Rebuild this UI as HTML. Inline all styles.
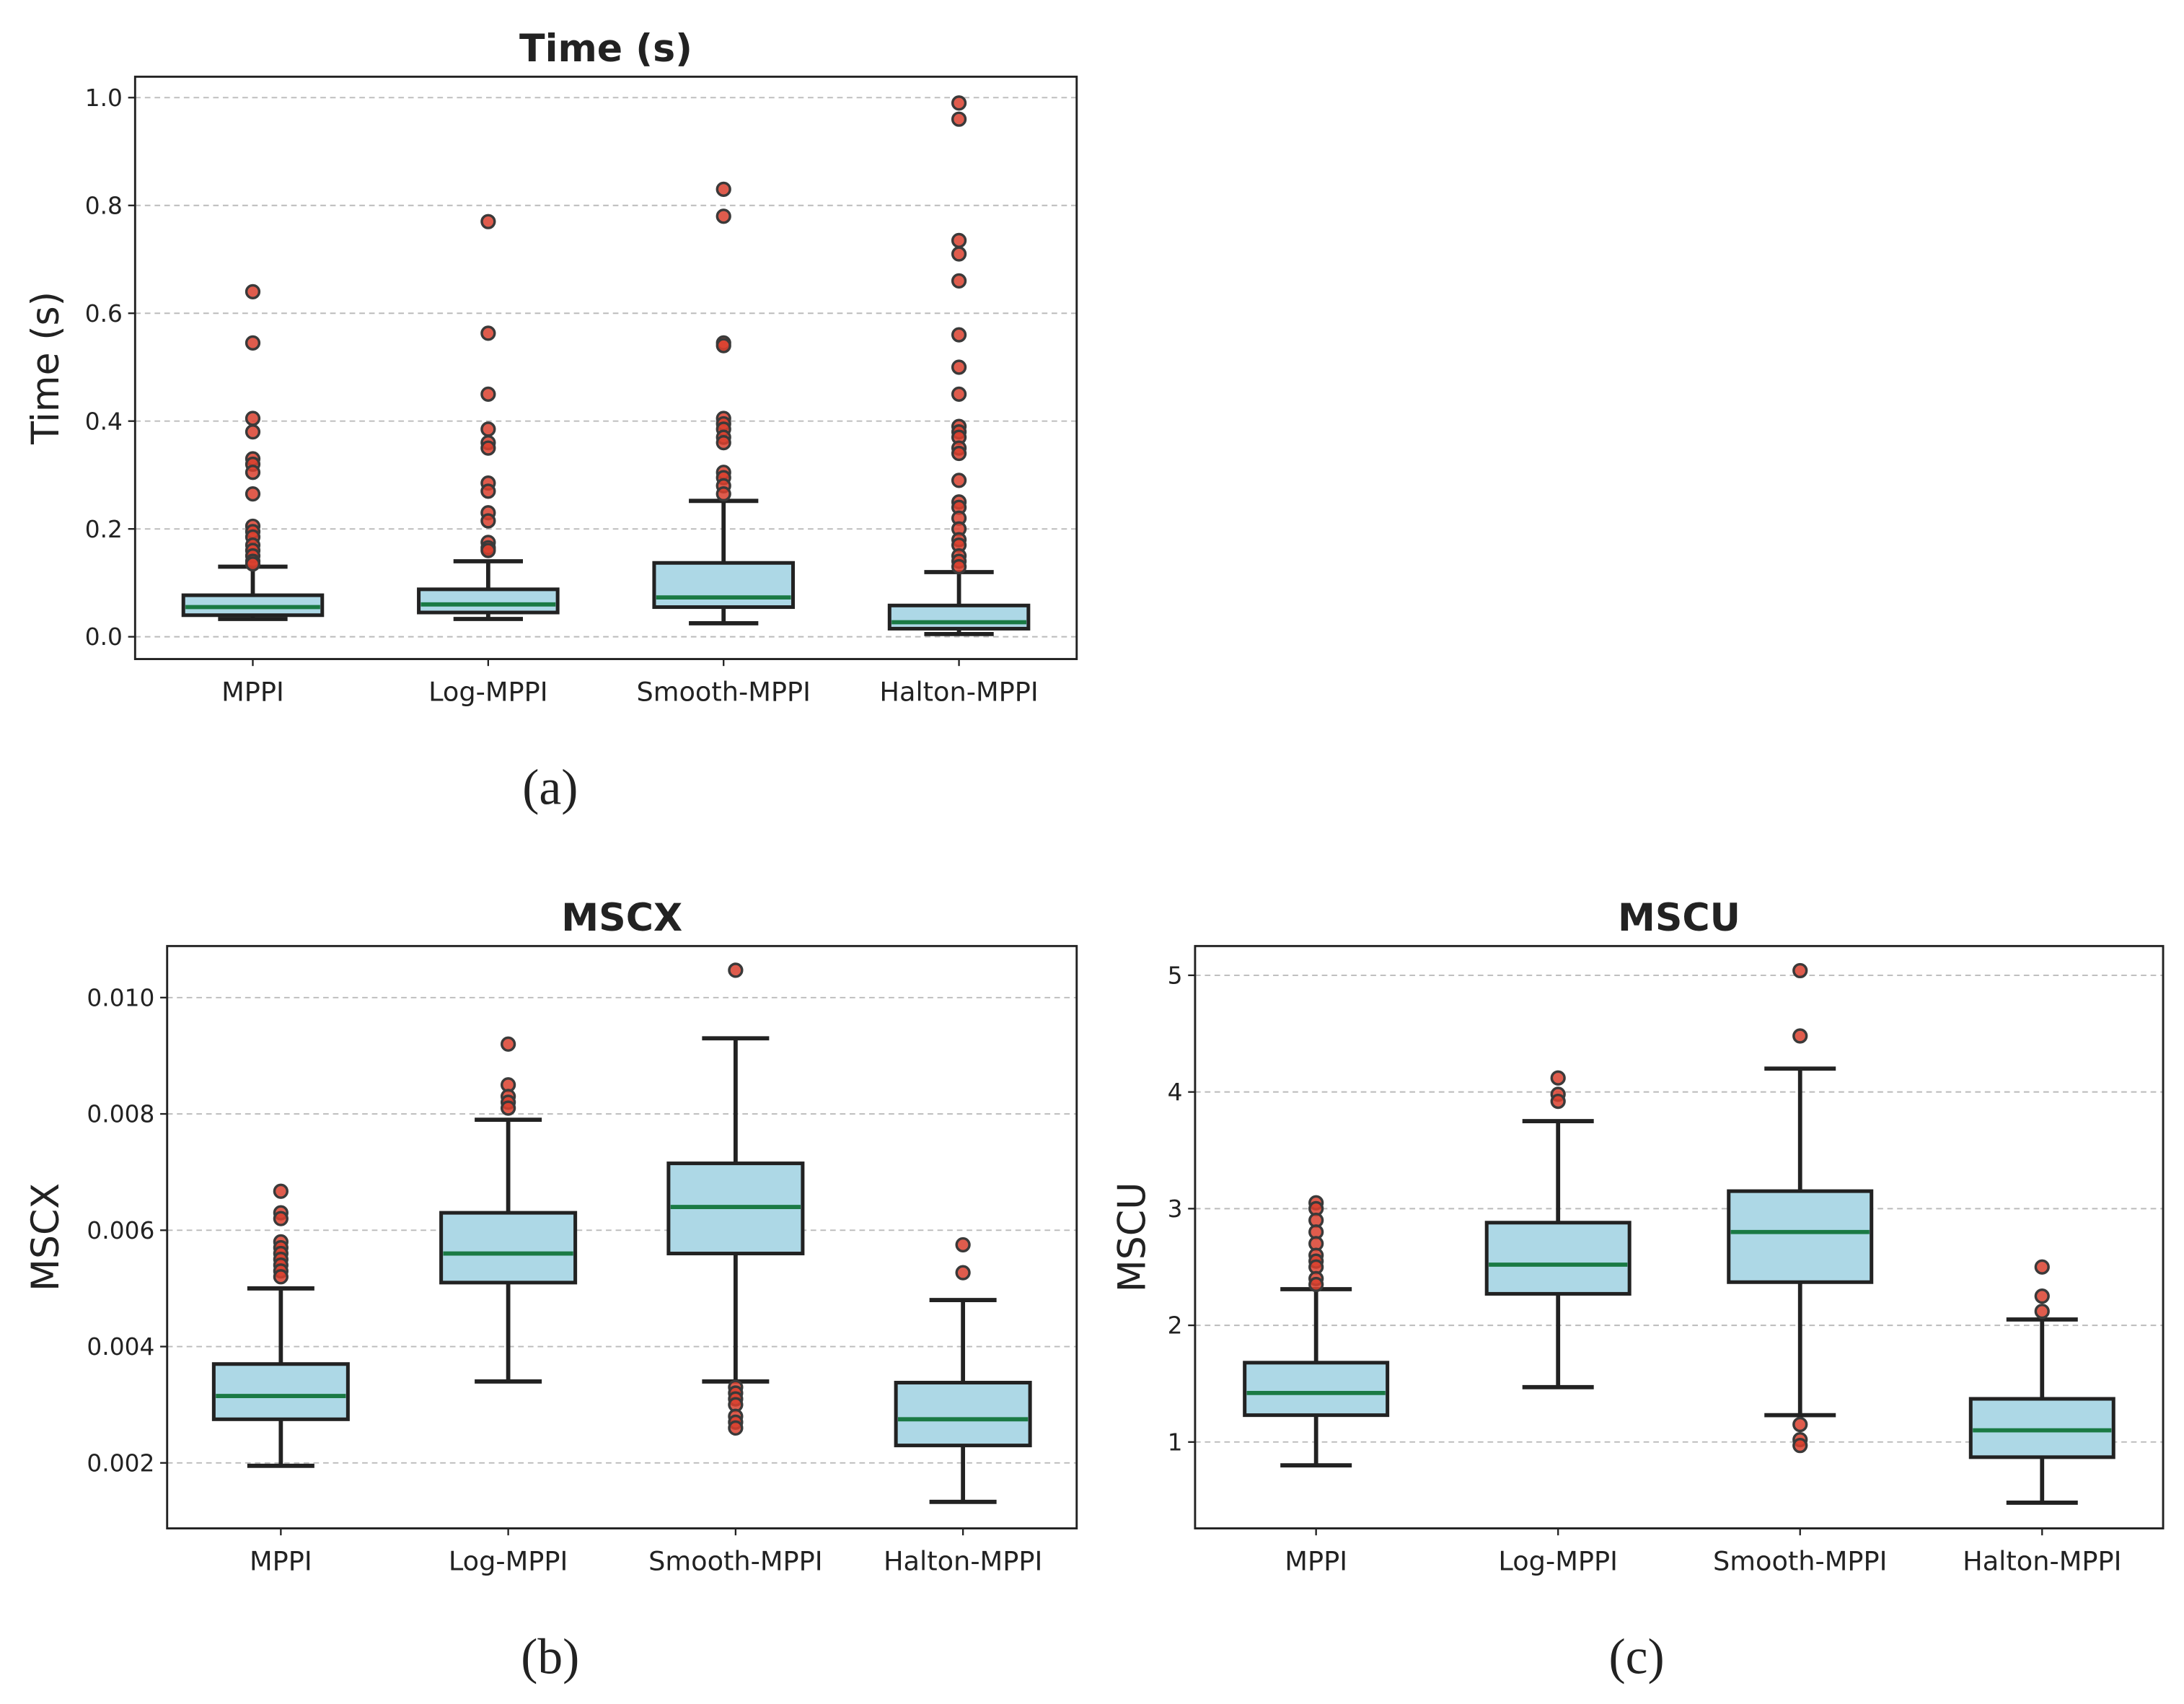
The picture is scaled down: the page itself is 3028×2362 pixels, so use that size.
<!DOCTYPE html>
<html><head><meta charset="utf-8"><style>
html,body{margin:0;padding:0;background:#fff}
svg{display:block}
text{font-family:"DejaVu Sans","Liberation Sans",sans-serif;fill:#222}
</style></head><body>
<svg id="chart" width="3028" height="2362" viewBox="0 0 1568 1223" xmlns="http://www.w3.org/2000/svg"></svg>
<script>
const categories=["MPPI","Log-MPPI","Smooth-MPPI","Halton-MPPI"];
// Time panel
const timeBoxes=[[0.040,0.055,0.077],[0.045,0.060,0.088],[0.055,0.073,0.137],[0.015,0.027,0.058]];
const timeWhiskers=[[0.033,0.13],[0.033,0.14],[0.025,0.252],[0.005,0.12]];
const timeOutliers=[
[0.64,0.545,0.405,0.38,0.33,0.32,0.305,0.265,0.205,0.195,0.185,0.17,0.16,0.15,0.14,0.135],
[0.77,0.563,0.45,0.385,0.36,0.35,0.285,0.27,0.23,0.215,0.175,0.165,0.16],
[0.83,0.78,0.545,0.54,0.405,0.395,0.385,0.37,0.36,0.305,0.295,0.28,0.265],
[0.99,0.96,0.735,0.71,0.66,0.56,0.5,0.45,0.39,0.38,0.37,0.35,0.34,0.29,0.25,0.24,0.22,0.2,0.18,0.17,0.15,0.14,0.13]];
const timeTicks=[0,0.2,0.4,0.6,0.8,1.0];
const timeTickLabels=["0.0","0.2","0.4","0.6","0.8","1.0"];
// MSCX panel
const mscxBoxes=[[0.00275,0.00315,0.0037],[0.0051,0.0056,0.0063],[0.0056,0.0064,0.00715],[0.0023,0.00275,0.00338]];
const mscxWhiskers=[[0.00195,0.005],[0.0034,0.0079],[0.0034,0.0093],[0.00133,0.0048]];
const mscxOutliers=[
[0.00667,0.0063,0.0062,0.0058,0.0057,0.0056,0.0055,0.0054,0.0053,0.0052],
[0.0092,0.0085,0.0083,0.0082,0.0081],
[0.01047,0.0033,0.0032,0.0031,0.0030,0.0028,0.0027,0.0026],
[0.00575,0.00527]];
const mscxTicks=[0.002,0.004,0.006,0.008,0.010];
const mscxTickLabels=["0.002","0.004","0.006","0.008","0.010"];
// MSCU panel
const mscuBoxes=[[1.23,1.42,1.68],[2.27,2.52,2.88],[2.37,2.8,3.15],[0.87,1.1,1.37]];
const mscuWhiskers=[[0.8,2.31],[1.47,3.75],[1.23,4.2],[0.48,2.05]];
const mscuOutliers=[
[3.05,3.0,2.9,2.8,2.7,2.6,2.55,2.5,2.4,2.35],
[4.12,3.98,3.92],
[5.04,4.48,1.15,1.02,0.97],
[2.5,2.25,2.12]];
const mscuTicks=[1,2,3,4,5];
const mscuTickLabels=["1","2","3","4","5"];

const NS="http://www.w3.org/2000/svg";
const svg=document.getElementById("chart");
function mk(tag,attrs,parent){const e=document.createElementNS(NS,tag);for(const k in attrs)e.setAttribute(k,attrs[k]);(parent||svg).appendChild(e);return e;}

function panel(cfg){
  const g=mk("g",{});
  
  
  const y=v=>cfg.y0px+(v-cfg.v0)*(cfg.y1px-cfg.y0px)/(cfg.v1-cfg.v0);
  const step=(cfg.right-cfg.left)/4;
  const x=i=>cfg.left+step*(i+0.5);
  cfg.ticks.forEach((t,i)=>{
    const l=mk("line",{x1:cfg.left,x2:cfg.right,y1:y(t),y2:y(t),stroke:"#bbb","stroke-width":1,"stroke-dasharray":"4,3"},g);
    
    
    mk("line",{x1:cfg.left-5,x2:cfg.left,y1:y(t),y2:y(t),stroke:"#222","stroke-width":1.2},g);
    const tx=mk("text",{x:cfg.left-9,y:y(t)+6,"text-anchor":"end","font-size":17},g);
    tx.textContent=cfg.tickLabels[i];
    
    
  });
  const bw=step*0.59;
  categories.forEach((c,i)=>{
    const cx=x(i);
    const [q1,med,q3]=cfg.boxes[i];const [w0,w1]=cfg.whiskers[i];
    mk("line",{x1:cx,x2:cx,y1:y(q3),y2:y(w1),stroke:"#222","stroke-width":3},g);
    mk("line",{x1:cx,x2:cx,y1:y(q1),y2:y(w0),stroke:"#222","stroke-width":3},g);
    mk("line",{x1:cx-bw/4,x2:cx+bw/4,y1:y(w1),y2:y(w1),stroke:"#222","stroke-width":3},g);
    mk("line",{x1:cx-bw/4,x2:cx+bw/4,y1:y(w0),y2:y(w0),stroke:"#222","stroke-width":3},g);
    const r=mk("rect",{x:cx-bw/2,y:y(q3),width:bw,height:y(q1)-y(q3),fill:"#add8e6",stroke:"#222","stroke-width":2.6},g);
    
    
    mk("line",{x1:cx-bw/2+1.5,x2:cx+bw/2-1.5,y1:y(med),y2:y(med),stroke:"#1a7a44","stroke-width":3},g);
    cfg.outliers[i].forEach(v=>{
      const o=mk("circle",{cx:cx,cy:y(v),r:4.6,fill:"#d9402e","fill-opacity":0.85,stroke:"#3a3a3a","stroke-width":1.8},g);
      
      
    });
    mk("line",{x1:cx,x2:cx,y1:cfg.bottom,y2:cfg.bottom+5,stroke:"#222","stroke-width":1.2},g);
    const tl=mk("text",{x:cx,y:cfg.bottom+30,"text-anchor":"middle","font-size":19},g);
    tl.textContent=c;
    
    
  });
  const fr=mk("rect",{x:cfg.left,y:cfg.top,width:cfg.right-cfg.left,height:cfg.bottom-cfg.top,fill:"none",stroke:"#222","stroke-width":1.5},g);
  
  
  const ti=mk("text",{x:(cfg.left+cfg.right)/2,y:cfg.top-11,"text-anchor":"middle","font-size":27,"font-weight":"bold"},g);
  ti.textContent=cfg.title;
  
  
  const yl=mk("text",{x:0,y:0,"text-anchor":"middle","font-size":27,transform:`translate(${cfg.ylx},${(cfg.top+cfg.bottom)/2}) rotate(-90)`},g);
  yl.textContent=cfg.ylabel;
  
  
  const cap=mk("text",{x:cfg.capx,y:cfg.bottom+104,"text-anchor":"middle","font-size":36,style:"font-family:'Liberation Serif',serif"},g);
  cap.textContent=cfg.caption;
  
  
}
panel({name:"time",title:"Time (s)",ylabel:"Time (s)",caption:"(a)",capx:395,left:97,right:773,top:55,bottom:473,v0:0,v1:1,y0px:457,y1px:70,ylx:42,ticks:timeTicks,tickLabels:timeTickLabels,boxes:timeBoxes,whiskers:timeWhiskers,outliers:timeOutliers});
panel({name:"mscx",title:"MSCX",ylabel:"MSCX",caption:"(b)",capx:395,left:120,right:773,top:679,bottom:1097,v0:0.002,v1:0.010,y0px:1050,y1px:716,ylx:42,ticks:mscxTicks,tickLabels:mscxTickLabels,boxes:mscxBoxes,whiskers:mscxWhiskers,outliers:mscxOutliers});
panel({name:"mscu",title:"MSCU",ylabel:"MSCU",caption:"(c)",capx:1175,left:858,right:1553,top:679,bottom:1097,v0:1,v1:5,y0px:1035,y1px:700,ylx:822,ticks:mscuTicks,tickLabels:mscuTickLabels,boxes:mscuBoxes,whiskers:mscuWhiskers,outliers:mscuOutliers});
</script>
</body></html>
